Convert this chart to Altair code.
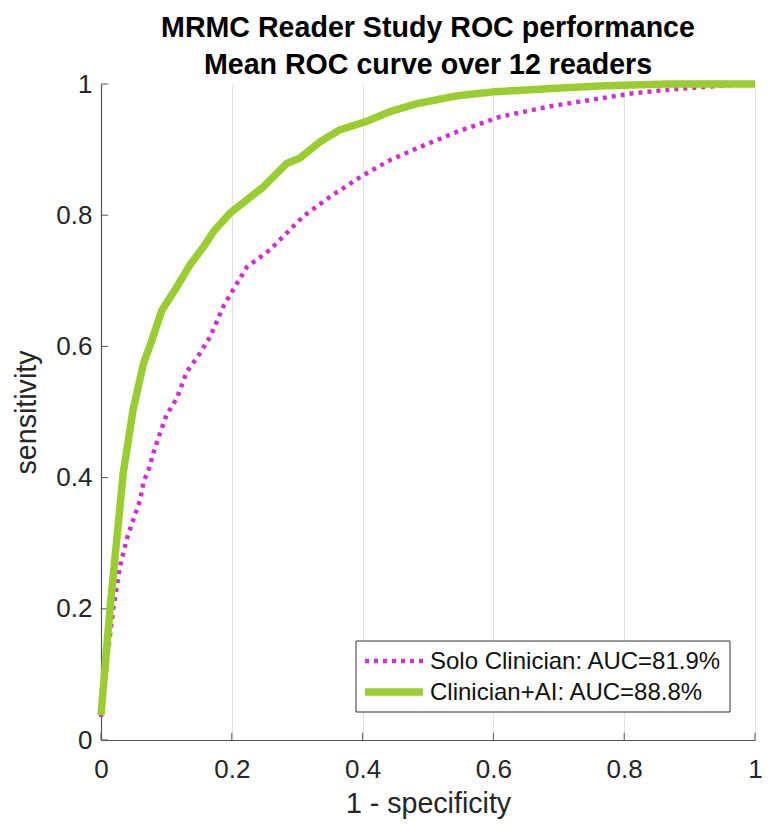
import altair as alt
import pandas as pd

# ---- data ----
solo_fpr = [0.0, 0.011, 0.019, 0.029, 0.039, 0.049, 0.060, 0.065, 0.072, 0.080, 0.090, 0.100,
            0.116, 0.131, 0.151, 0.167, 0.188, 0.223, 0.258, 0.309, 0.350, 0.401, 0.442,
            0.483, 0.544, 0.610, 0.687, 0.763, 0.814, 0.865, 0.941, 0.97, 1.0]
solo_tpr = [0.035, 0.137, 0.203, 0.264, 0.305, 0.335, 0.366, 0.394, 0.409, 0.437, 0.467, 0.495,
            0.521, 0.561, 0.589, 0.615, 0.663, 0.721, 0.747, 0.798, 0.828, 0.861, 0.884,
            0.902, 0.927, 0.950, 0.966, 0.978, 0.986, 0.991, 0.997, 0.999, 1.0]

ai_fpr = [0.0, 0.014, 0.034, 0.049, 0.065, 0.078, 0.093, 0.113, 0.136, 0.159, 0.172, 0.197,
          0.248, 0.284, 0.304, 0.335, 0.365, 0.406, 0.442, 0.483, 0.544, 0.600, 0.687,
          0.763, 0.865, 1.0]
ai_tpr = [0.038, 0.203, 0.407, 0.503, 0.574, 0.610, 0.655, 0.686, 0.724, 0.755, 0.775, 0.803,
          0.843, 0.879, 0.887, 0.912, 0.930, 0.943, 0.958, 0.970, 0.982, 0.988, 0.993,
          0.997, 1.0, 1.0]

series_names = ["Solo Clinician: AUC=81.9%", "Clinician+AI: AUC=88.8%"]
series_colors = ["#cc33cc", "#9acd32"]
series_dash = [[4, 5], [1, 0]]
series_width = [4.5, 7.5]

tick_values = [0, 0.2, 0.4, 0.6, 0.8, 1]

rows = []
for i, (x, y) in enumerate(zip(solo_fpr, solo_tpr)):
    rows.append({"series": series_names[0], "fpr": x, "tpr": y, "idx": i})
for i, (x, y) in enumerate(zip(ai_fpr, ai_tpr)):
    rows.append({"series": series_names[1], "fpr": x, "tpr": y, "idx": i})
df = pd.DataFrame(rows)

ticks_df = pd.DataFrame({"v": tick_values})
one = pd.DataFrame({"a": [0]})

FONT = "Liberation Sans"
AXIS_COLOR = "#555555"

xscale = alt.Scale(domain=[0, 1], nice=False, zero=False)
yscale = alt.Scale(domain=[0, 1], nice=False, zero=False)

xaxis = alt.Axis(values=tick_values, format=".1~f", title="1 - specificity", labelFlush=False)
yaxis = alt.Axis(values=tick_values, format=".1~f", title="sensitivity", labelFlush=False)

lines = alt.Chart(df).mark_line(strokeCap="butt", strokeJoin="round").encode(
    x=alt.X("fpr:Q", scale=xscale, axis=xaxis),
    y=alt.Y("tpr:Q", scale=yscale, axis=yaxis),
    color=alt.Color("series:N",
                    scale=alt.Scale(domain=series_names, range=series_colors), legend=None),
    strokeDash=alt.StrokeDash("series:N",
                              scale=alt.Scale(domain=series_names, range=series_dash), legend=None),
    strokeWidth=alt.StrokeWidth("series:O",
                                scale=alt.Scale(domain=series_names, range=series_width), legend=None),
    order="idx:Q",
    detail="series:N",
)

xticks = alt.Chart(ticks_df).mark_rule(color=AXIS_COLOR, strokeWidth=1).encode(
    x=alt.X("v:Q", scale=xscale, axis=xaxis),
    y=alt.datum(0),
    y2=alt.datum(0.011),
)
yticks = alt.Chart(ticks_df).mark_rule(color=AXIS_COLOR, strokeWidth=1).encode(
    y=alt.Y("v:Q", scale=yscale, axis=yaxis),
    x=alt.datum(0),
    x2=alt.datum(0.011),
)

# ---- legend box (drawn in the plot's pixel frame) ----
LX0, LX1, LY0, LY1 = 255, 629, 557, 628
SYM_X0, SYM_X1, TXT_X = 264, 322, 329
ROW_Y = [577, 608]

leg_box = alt.Chart(one).mark_rect(fill="white", stroke="#333333", strokeWidth=1).encode(
    x=alt.value(LX0), x2=alt.value(LX1), y=alt.value(LY0), y2=alt.value(LY1))
leg_layers = [leg_box]
for k in range(2):
    leg_layers.append(
        alt.Chart(one).mark_rule(color=series_colors[k], strokeWidth=series_width[k],
                                 strokeDash=series_dash[k], strokeCap="butt").encode(
            x=alt.value(SYM_X0), x2=alt.value(SYM_X1), y=alt.value(ROW_Y[k]))
    )
    leg_layers.append(
        alt.Chart(one).mark_text(align="left", baseline="middle", font=FONT, fontSize=24,
                                 color="#111111", text=series_names[k]).encode(
            x=alt.value(TXT_X), y=alt.value(ROW_Y[k] + 1))
    )

chart = alt.layer(xticks, yticks, lines, *leg_layers).properties(
    width=654,
    height=656,
    title=alt.TitleParams(
        ["MRMC Reader Study ROC performance", "Mean ROC curve over 12 readers"],
        fontSize=28.6, fontWeight="bold", font=FONT, color="#000000",
        anchor="middle", offset=-9, lineHeight=37,
    ),
    padding={"left": 93, "top": 76, "right": 8, "bottom": 80},
    autosize=alt.AutoSizeParams(type="none"),
).configure_view(
    stroke=None
).configure_axis(
    domainColor=AXIS_COLOR, domainWidth=1.2,
    gridColor="#e3e3e3", gridWidth=1,
    ticks=False,
    labelFont=FONT, labelFontSize=26, labelColor="#262626",
    titleFont=FONT, titleFontSize=28.6, titleColor="#262626", titleFontWeight="normal",
).configure_axisX(
    labelPadding=16, titlePadding=7,
).configure_axisY(
    labelPadding=9, titlePadding=14,
)

chart.save("out.html", embed_options={"renderer": "svg", "actions": False})
